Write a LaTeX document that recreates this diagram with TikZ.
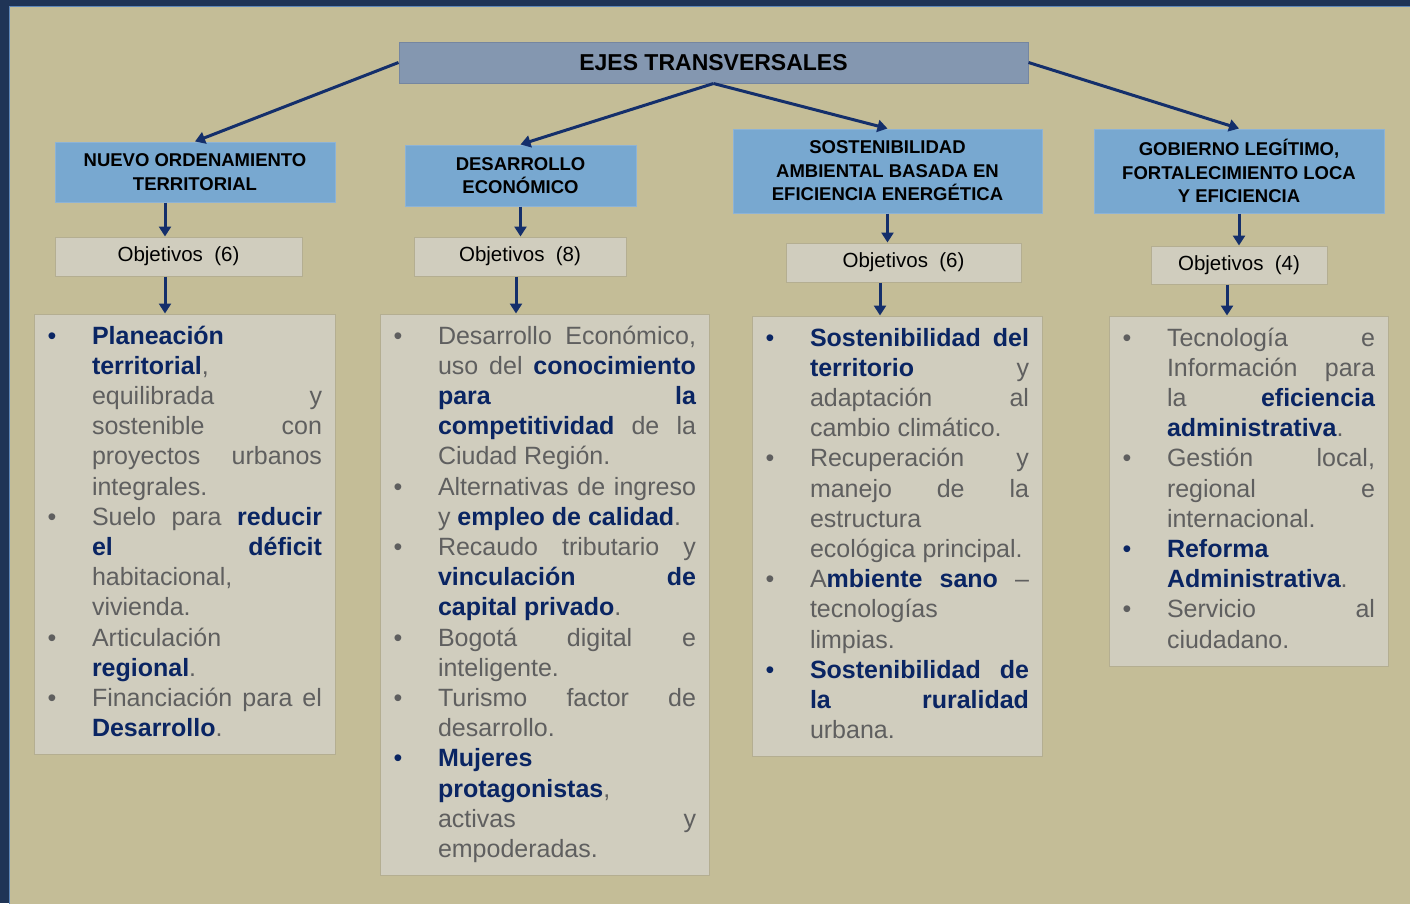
\documentclass[tikz,border=0pt]{standalone}
\usepackage{fontspec}
\setmainfont{Liberation Sans}
\usepackage{xcolor}
\definecolor{marco}{HTML}{1F3456}
\definecolor{filete}{HTML}{5E87B8}
\definecolor{fondo}{HTML}{C4BD97}
\definecolor{ejeBody}{HTML}{8497B0}
\definecolor{ejeBorder}{HTML}{7586A0}
\definecolor{temaBody}{HTML}{78A8D0}
\definecolor{temaBorder}{HTML}{8DB3D6}
\definecolor{objBody}{HTML}{D0CDBE}
\definecolor{objBorder}{HTML}{B4AE91}
\definecolor{flecha}{HTML}{142F6B}
\definecolor{azul}{HTML}{0A2563}
\definecolor{gris}{HTML}{5F5F5F}
\usepackage{tikz}
\usetikzlibrary{arrows.meta}
\usetikzlibrary{positioning}
\tikzstyle{eje} = [rectangle, fill=ejeBody, draw=ejeBorder, line width=1pt,
        minimum width=629pt, minimum height=41pt, font={\fontsize{23}{27}\selectfont\bfseries}]
\tikzstyle{tema} = [rectangle, fill=temaBody, draw=temaBorder, line width=1pt, align=center,
        inner sep=0pt, font={\fontsize{18.5}{23.5}\selectfont\bfseries}]
\tikzstyle{objetivos} = [rectangle, fill=objBody, draw=objBorder, line width=1pt,
        minimum height=39pt, inner sep=0pt, font={\fontsize{20.5}{24}\selectfont}]
\tikzstyle{metas} = [rectangle, fill=objBody, draw=objBorder, line width=1pt, inner xsep=13pt, inner ysep=9pt,
        align=justify, font={\fontsize{25}{30.2}\selectfont\color{gris}}]
\tikzstyle{flechas} = [draw=flecha, line width=3pt, -{Triangle[length=10pt,width=12pt]}]
\newcommand{\az}[1]{{\bfseries\color{azul}#1}}
\newcommand{\lista}{\leftskip=45pt\rightskip=0pt\parfillskip=0pt plus 1fil\parindent=0pt\parskip=0pt
        \tolerance=10000\hbadness=10000\hyphenpenalty=10000\exhyphenpenalty=10000}
\newcommand{\vinetaini}[1][gris]{\leavevmode\llap{\makebox[0pt]{\textcolor{#1}{\textbullet}}\hspace*{40pt}}\strut\ignorespaces}
\newcommand{\vineta}[1][gris]{\par\noindent\llap{\makebox[0pt]{\textcolor{#1}{\textbullet}}\hspace*{40pt}}\strut\ignorespaces}

\begin{document}
\begin{tikzpicture}[x=1pt, y=1pt]
    \useasboundingbox (0,0) rectangle (1410,-903);
    \fill[marco] (0,0) rectangle (1410,-903);
    \filldraw[fill=fondo, draw=filete, line width=1.5pt] (9.5,-6.5) rectangle (1415,-910);

    \node[eje] (ejes) at (713.5,-62.5) {EJES TRANSVERSALES};

    \node[tema, minimum width=280pt, minimum height=60pt] (nuevo) at (195,-172) {NUEVO ORDENAMIENTO\\TERRITORIAL};
    \node[tema, minimum width=231pt, minimum height=61pt] (desarrollo) at (520.5,-175.5) {DESARROLLO\\ECONÓMICO};
    \node[tema, minimum width=309pt, minimum height=84pt] (sosten) at (887.5,-171) {SOSTENIBILIDAD\\AMBIENTAL BASADA EN\\EFICIENCIA ENERGÉTICA};
    \node[tema, minimum width=290pt, minimum height=84pt] (gobierno) at (1239,-171) {GOBIERNO LEGÍTIMO,\\FORTALECIMIENTO LOCA\\Y EFICIENCIA};

    \node[objetivos, minimum width=247pt, below right=34pt and 0pt of nuevo.south west] (obj1) {Objetivos\ \ (6)};
    \node[objetivos, minimum width=212pt, below right=30pt and 9pt of desarrollo.south west] (obj2) {Objetivos\ \ (8)};
    \node[objetivos, minimum width=235pt, below right=29pt and 53pt of sosten.south west] (obj3) {Objetivos\ \ (6)};
    \node[objetivos, minimum width=176pt, minimum height=38pt, below right=32pt and 57pt of gobierno.south west] (obj4) {Objetivos\ \ (4)};

    \node[metas, text width=275pt, below right=37pt and -21pt of obj1.south west] (metas1) {\lista
        \vinetaini[azul]\az{Planeación}\linebreak \az{territorial}, \linebreak equilibrada y\linebreak
        sostenible con\linebreak proyectos urbanos\linebreak integrales.
        \vineta Suelo para \az{reducir}\linebreak \az{el déficit}\linebreak habitacional,\linebreak vivienda.
        \vineta Articulación\linebreak \az{regional}.
        \vineta Financiación para el\linebreak \az{Desarrollo}.\strut\par};
    \node[metas, text width=303pt, below right=37pt and -34pt of obj2.south west] (metas2) {\lista
        \vinetaini Desarrollo Económico,\linebreak uso del \az{conocimiento}\linebreak \az{para la}\linebreak
        \az{competitividad} de la\linebreak Ciudad Región.
        \vineta Alternativas de ingreso\linebreak y \az{empleo de calidad}.
        \vineta Recaudo tributario y\linebreak \az{vinculación de}\linebreak \az{capital privado}.
        \vineta Bogotá digital e\linebreak inteligente.
        \vineta Turismo factor de\linebreak desarrollo.
        \vineta[azul]\az{Mujeres}\linebreak \az{protagonistas},\linebreak activas y\linebreak empoderadas.\strut\par};
    \node[metas, text width=264pt, below right=33pt and -34pt of obj3.south west] (metas3) {\lista
        \vinetaini[azul]\az{Sostenibilidad del}\linebreak \az{territorio} y\linebreak adaptación al\linebreak cambio climático.
        \vineta Recuperación y\linebreak manejo de la\linebreak estructura\linebreak ecológica principal.
        \vineta A\az{mbiente sano} –\linebreak tecnologías\linebreak limpias.
        \vineta[azul]\az{Sostenibilidad de}\linebreak \az{la ruralidad}\linebreak urbana.\strut\par};
    \node[metas, text width=253pt, below right=31pt and -42pt of obj4.south west] (metas4) {\lista
        \vinetaini Tecnología e\linebreak Información para\linebreak la \az{eficiencia}\linebreak \az{administrativa}.
        \vineta Gestión local,\linebreak regional e\linebreak internacional.
        \vineta[azul]\az{Reforma}\linebreak \az{Administrativa}.
        \vineta Servicio al\linebreak ciudadano.\strut\par};

    % flechas
    \draw[flechas] (ejes.west) -- (nuevo.north);
    \draw[flechas] (ejes.south) -- (desarrollo.north);
    \draw[flechas] (ejes.south) -- (sosten.north);
    \draw[flechas] (ejes.east) -- (gobierno.north);
    \coordinate (c1) at ([xshift=-30pt]nuevo.south);
    \coordinate (c2) at ([xshift=-13.5pt]obj1.south);
    \coordinate (c3) at ([xshift=-4pt]obj2.south);
    \coordinate (c4) at ([xshift=-23.5pt]obj3.south);
    \coordinate (c5) at ([xshift=-12pt]obj4.south);
    \draw[flechas] (c1) -- (c1 |- obj1.north);
    \draw[flechas] (c2) -- (c2 |- metas1.north);
    \draw[flechas] (desarrollo.south) -- (desarrollo.south |- obj2.north);
    \draw[flechas] (c3) -- (c3 |- metas2.north);
    \draw[flechas] (sosten.south) -- (sosten.south |- obj3.north);
    \draw[flechas] (c4) -- (c4 |- metas3.north);
    \draw[flechas] (gobierno.south) -- (gobierno.south |- obj4.north);
    \draw[flechas] (c5) -- (c5 |- metas4.north);
\end{tikzpicture}
\end{document}
